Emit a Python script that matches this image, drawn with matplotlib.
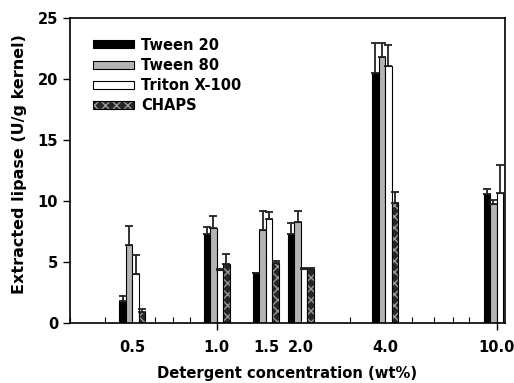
import numpy as np
import matplotlib
matplotlib.use("Agg")
from matplotlib import pyplot as plt
from matplotlib.ticker import LogLocator, NullFormatter, FixedLocator, FixedFormatter
from matplotlib.legend_handler import HandlerTuple

plt.rcParams['font.family'] = ['DejaVu Sans']
plt.rcParams['font.weight'] = 'bold'
plt.rcParams['hatch.color'] = '#9a9a9a'
plt.rcParams['hatch.linewidth'] = 1.0

# detergent concentration (wt%)
conc = [0.5, 1.0, 1.5, 2.0, 4.0, 10.0]
conc_labels = ["0.5", "1.0", "1.5", "2.0", "4.0", "10.0"]

# extracted lipase (U/g kernel) and upper error
tween20 = [1.8, 7.3, 4.05, 7.3, 20.45, 10.6]
tween20_err = [0.4, 0.6, 0.05, 0.9, 2.5, 0.35]
tween80 = [6.35, 7.75, 7.65, 8.3, 21.8, 9.75]
tween80_err = [1.6, 1.0, 1.5, 0.85, 1.15, 0.3]
triton = [4.0, 4.35, 8.5, 4.45, 21.05, 10.65]
triton_err = [1.6, 0.1, 0.6, 0.05, 1.7, 2.3]
chaps = [0.9, 4.85, 4.9, 4.45, 9.8, np.nan]
chaps_err = [0.2, 0.8, 0.15, 0.05, 0.9, np.nan]

series = ["Tween 20", "Tween 80", "Triton X-100", "CHAPS"]

fig = plt.figure(figsize=(5.14, 3.83), dpi=100)
ax = fig.add_axes([0.136, 0.157, 0.846, 0.796])
ax.set_xscale('log')

w = 0.0232  # bar width in decades
c = np.array(conc)


def bar_pos(i):
    lo = c * 10 ** ((i - 2) * w)
    hi = c * 10 ** ((i - 1) * w)
    mid = c * 10 ** ((i - 1.5) * w)
    return lo, hi - lo, mid


handles = []
for i, (vals, errs, fc) in enumerate([(tween20, tween20_err, 'black'),
                                      (tween80, tween80_err, '#b4b4b4'),
                                      (triton, triton_err, 'white')]):
    lo, width, mid = bar_pos(i)
    b = ax.bar(lo, vals, width=width, align='edge', color=fc, edgecolor='black', linewidth=0.8, zorder=2)
    ax.errorbar(mid, vals, yerr=[np.zeros(len(vals)), errs], fmt='none', ecolor='#222222',
                elinewidth=1.3, capsize=3.2, capthick=1.3, zorder=3)
    handles.append(b)

lo, width, mid = bar_pos(3)
bch = ax.bar(lo, chaps, width=width, align='edge', color='#262626', hatch='xxx', linewidth=0, zorder=2)
bch_o = ax.bar(lo, chaps, width=width, align='edge', fill=False, edgecolor='black', linewidth=0.8, zorder=2)
ax.errorbar(mid, chaps, yerr=[np.zeros(len(chaps)), chaps_err], fmt='none', ecolor='#222222',
            elinewidth=1.3, capsize=3.2, capthick=1.3, zorder=3)
handles.append((bch, bch_o))

ax.set_xlim(0.299, 10.7)
ax.set_ylim(0, 25)
ax.set_yticks([0, 5, 10, 15, 20, 25])

# log ticks: decades out, minor in; concentration labels on a secondary axis
ax.xaxis.set_major_locator(FixedLocator([1, 10]))
ax.xaxis.set_major_formatter(NullFormatter())
ax.xaxis.set_minor_locator(LogLocator(base=10, subs=np.arange(2, 10)))
ax.xaxis.set_minor_formatter(NullFormatter())
ax.tick_params(axis='x', which='major', direction='out', length=5, width=1)
ax.tick_params(axis='x', which='minor', direction='in', length=4, width=0.8)
ax.tick_params(axis='y', direction='out', length=5, width=1, labelsize=10.5)

sec = ax.secondary_xaxis(0)
sec.xaxis.set_major_locator(FixedLocator(conc))
sec.xaxis.set_major_formatter(FixedFormatter(conc_labels))
sec.xaxis.set_minor_locator(FixedLocator([]))
sec.tick_params(length=0, pad=12, labelsize=10.5)
sec.spines['bottom'].set_visible(False)
sec.set_xlabel("Detergent concentration (wt%)", fontsize=10.6, fontweight='bold', labelpad=8)

for s in ax.spines.values():
    s.set_linewidth(1.2)

ax.set_ylabel("Extracted lipase (U/g kernel)", fontsize=11.5, fontweight='bold')
ax.yaxis.set_label_coords(-0.099, 0.52)

ax.legend(handles, series, loc='upper left', bbox_to_anchor=(0.04, 0.955), frameon=False,
          fontsize=10.5, handlelength=2.8, handleheight=0.45, handletextpad=0.5, labelspacing=0.36,
          handler_map={tuple: HandlerTuple(ndivide=1, pad=0)}, borderaxespad=0)

fig.savefig("out.png", dpi=100)
plt.close(fig)
